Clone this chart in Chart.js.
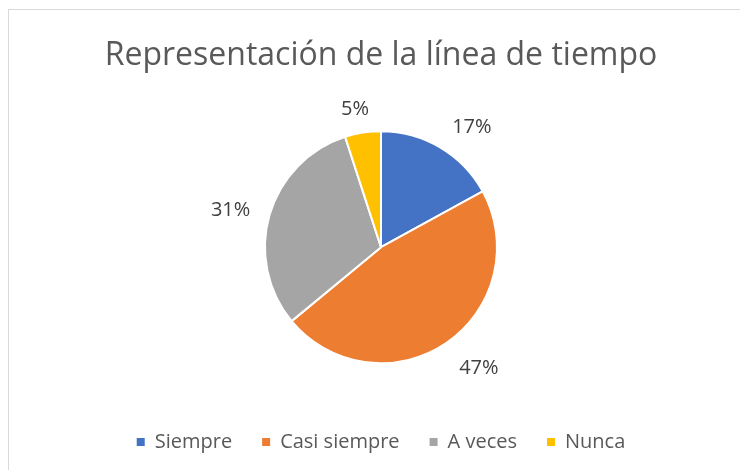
<!DOCTYPE html>
<html>
<head>
<meta charset="utf-8">
<script src="https://cdn.jsdelivr.net/npm/chart.js@4.4.1/dist/chart.umd.min.js"></script>
<style>
  html, body { margin: 0; padding: 0; background: #fff; }
  #wrap { position: relative; width: 740px; height: 470px; }
  #frame { position: absolute; left: 8px; top: 9px; width: 760px; height: 500px; border: 1px solid #d9d9d9; box-sizing: border-box; }
  #chart { position: absolute; left: 0; top: 0; }
</style>
</head>
<body>
<div id="wrap">
  <div id="frame"></div>
  <canvas id="chart" width="740" height="470"></canvas>
</div>
<script>
const categories = ['Siempre', 'Casi siempre', 'A veces', 'Nunca']
const percentages = [17, 47, 31, 5]
const slice_colors = ['#4472C4', '#ED7D31', '#A5A5A5', '#FFC000']

const title_text = 'Representación de la línea de tiempo'
const font_family = '"Open Sans", "Noto Sans", sans-serif'

// labels outside each slice, placed from the arc geometry
const outside_labels = {
    id: 'outside_labels',
    afterDatasetsDraw(chart) {
        const ctx = chart.ctx
        const meta = chart.getDatasetMeta(0)
        ctx.save()
        ctx.font = '20px ' + font_family
        ctx.fillStyle = '#404040'
        ctx.textAlign = 'center'
        ctx.textBaseline = 'middle'
        meta.data.forEach((arc, i) => {
            const p = arc.getProps(['x', 'y', 'startAngle', 'endAngle', 'outerRadius'], true)
            const mid = (p.startAngle + p.endAngle) / 2
            const cos = Math.cos(mid)
            const sin = Math.sin(mid)
            const text = percentages[i] + '%'
            const hw = ctx.measureText(text).width / 2
            const r = p.outerRadius + 16
            const dx = hw * Math.max(-1, Math.min(1, cos * 2)) * 1.2
            const dy = 11 * sin + 3
            ctx.fillText(text, p.x + cos * r + dx, p.y + sin * r + dy)
        })
        ctx.restore()
    }
}

const base_labels = Chart.overrides.pie.plugins.legend.labels.generateLabels

const chart = new Chart(document.querySelector('#chart'), {
    type: 'pie',
    data: {
        labels: categories,
        datasets: [{
            data: percentages,
            backgroundColor: slice_colors,
            borderColor: '#ffffff',
            borderWidth: 2,
            radius: 116,
        }]
    },
    options: {
        responsive: false,
        animation: false,
        layout: {
            padding: { left: 22, right: 0, top: 0, bottom: 8 }
        },
        plugins: {
            title: {
                display: true,
                text: title_text,
                color: '#595959',
                font: { family: font_family, size: 32, weight: 'normal' },
                padding: { top: 37, bottom: 17 },
            },
            legend: {
                position: 'bottom',
                labels: {
                    color: '#595959',
                    font: { family: font_family, size: 20 },
                    boxWidth: 8,
                    boxHeight: 8,
                    padding: 30,
                    generateLabels: (c) => base_labels(c).map((l) => ({ ...l, lineWidth: 0, strokeStyle: l.fillStyle })),
                }
            },
            tooltip: { enabled: false },
        }
    },
    plugins: [outside_labels]
});
</script>
</body>
</html>
